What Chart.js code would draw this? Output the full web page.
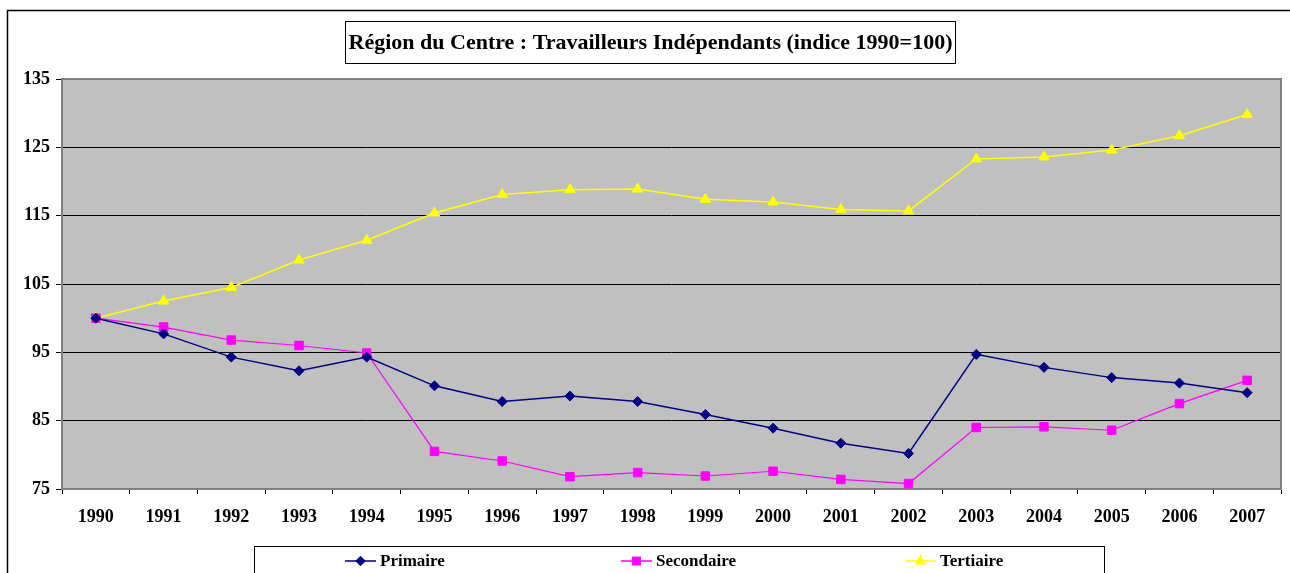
<!DOCTYPE html>
<html>
<head>
<meta charset="utf-8">
<script src="https://cdn.jsdelivr.net/npm/chart.js@4.4.0/dist/chart.umd.min.js"></script>
<style>
  body { margin: 0; background: #fff; }
</style>
</head>
<body>
<canvas id="chart" width="1290" height="573"></canvas>
<script>
// data (index 1990 = 100)
const years = ['1990', '1991', '1992', '1993', '1994', '1995', '1996', '1997', '1998',
               '1999', '2000', '2001', '2002', '2003', '2004', '2005', '2006', '2007'];
const primaire = [100, 97.7, 94.3, 92.3, 94.3, 90.1, 87.8, 88.6, 87.8,
                  85.9, 83.9, 81.7, 80.2, 94.7, 92.8, 91.3, 90.5, 89.1];
const secondaire = [100, 98.7, 96.8, 96.0, 94.9, 80.5, 79.1, 76.8, 77.4,
                    76.9, 77.6, 76.4, 75.8, 84.0, 84.1, 83.6, 87.5, 90.9];
const tertiaire = [100, 102.5, 104.5, 108.5, 111.4, 115.4, 118.1, 118.8, 118.9,
                   117.4, 117.0, 115.9, 115.7, 123.3, 123.6, 124.6, 126.7, 129.8];
const yTicks = [75, 85, 95, 105, 115, 125, 135];

const titleText = 'Région du Centre : Travailleurs Indépendants (indice 1990=100)';
const FONT = '"Liberation Serif", "Times New Roman", serif';

// legend entries placed like the original (x of the line sample)
const legendSlots = [345, 621, 905];

const framePlugin = {
    id: 'frame',
    beforeDraw(chart) {
        const { ctx, chartArea: a } = chart;
        ctx.save();
        ctx.fillStyle = '#c0c0c0';
        ctx.fillRect(a.left, a.top, a.right - a.left, a.bottom - a.top);
        ctx.restore();
    },
    beforeDatasetsDraw(chart) {
        const { ctx, chartArea: a } = chart;
        ctx.save();
        ctx.strokeStyle = '#808080';
        ctx.lineWidth = 2;
        ctx.strokeRect(a.left, a.top, a.right - a.left, a.bottom - a.top);
        ctx.restore();
    },
    afterDraw(chart) {
        const ctx = chart.ctx;
        ctx.save();
        // outer border
        ctx.strokeStyle = '#000';
        ctx.lineWidth = 1.5;
        ctx.beginPath();
        ctx.moveTo(7.5, 600);
        ctx.lineTo(7.5, 10.5);
        ctx.lineTo(1300, 10.5);
        ctx.stroke();

        // title box
        ctx.lineWidth = 1;
        ctx.fillStyle = '#fff';
        ctx.fillRect(345.5, 21.5, 610, 42);
        ctx.strokeRect(345.5, 21.5, 610, 42);
        ctx.fillStyle = '#000';
        ctx.font = 'bold 22px ' + FONT;
        ctx.textAlign = 'center';
        ctx.textBaseline = 'middle';
        ctx.fillText(titleText, 650.5, 43);

        // legend box
        ctx.strokeRect(254.5, 546.5, 850, 40);
        ctx.font = 'bold 17px ' + FONT;
        ctx.textAlign = 'left';
        chart.data.datasets.forEach((ds, i) => {
            const x = legendSlots[i];
            const y = 561;
            ctx.strokeStyle = ds.borderColor;
            ctx.lineWidth = 1.5;
            ctx.beginPath();
            ctx.moveTo(x, y);
            ctx.lineTo(x + 31, y);
            ctx.stroke();
            Chart.helpers.drawPoint(ctx, {
                pointStyle: ds.pointStyle,
                radius: ds.pointRadius - 1,
                borderWidth: 1
            }, x + 15.5, y);
            ctx.fillStyle = ds.pointBackgroundColor;
            ctx.strokeStyle = ds.pointBorderColor;
            ctx.fill();
            ctx.stroke();
            ctx.fillStyle = '#000';
            ctx.fillText(ds.label, x + 35, y + 1);
        });
        ctx.restore();
    }
};

function series(label, data, color, style, radius, width) {
    return {
        label: label,
        data: data,
        borderColor: color,
        backgroundColor: color,
        pointBackgroundColor: color,
        pointBorderColor: color,
        pointStyle: style,
        pointRadius: radius,
        pointBorderWidth: 1,
        borderWidth: width,
        tension: 0
    };
}

new Chart(document.getElementById('chart'), {
    type: 'line',
    data: {
        labels: years,
        datasets: [
            series('Primaire', primaire, '#000080', 'rectRot', 5, 1.5),
            series('Secondaire', secondaire, '#ff00ff', 'rect', 6, 1.2),
            series('Tertiaire', tertiaire, '#ffff00', 'triangle', 6, 1.5)
        ]
    },
    options: {
        responsive: false,
        animation: false,
        events: [],
        layout: { padding: { left: 8, right: 9, top: 79, bottom: 0 } },
        plugins: {
            legend: { display: false },
            title: { display: false },
            tooltip: { enabled: false }
        },
        scales: {
            x: {
                offset: true,
                afterFit(scale) { scale.height = 84; },
                grid: {
                    offset: true,
                    drawOnChartArea: false,
                    tickLength: 5,
                    color: '#000'
                },
                border: { display: false },
                ticks: {
                    color: '#000',
                    padding: 13,
                    maxRotation: 0,
                    font: { family: FONT, size: 18, weight: 'bold' }
                }
            },
            y: {
                min: 75,
                max: 135,
                afterFit(scale) { scale.width = 54; },
                afterBuildTicks(scale) {
                    scale.ticks = yTicks.map(v => ({ value: v }));
                },
                grid: {
                    color: '#000',
                    lineWidth: 1,
                    tickLength: 6
                },
                border: { display: false },
                ticks: {
                    color: '#000',
                    padding: 6,
                    font: { family: FONT, size: 18, weight: 'bold' }
                }
            }
        }
    },
    plugins: [framePlugin]
});
</script>
</body>
</html>
